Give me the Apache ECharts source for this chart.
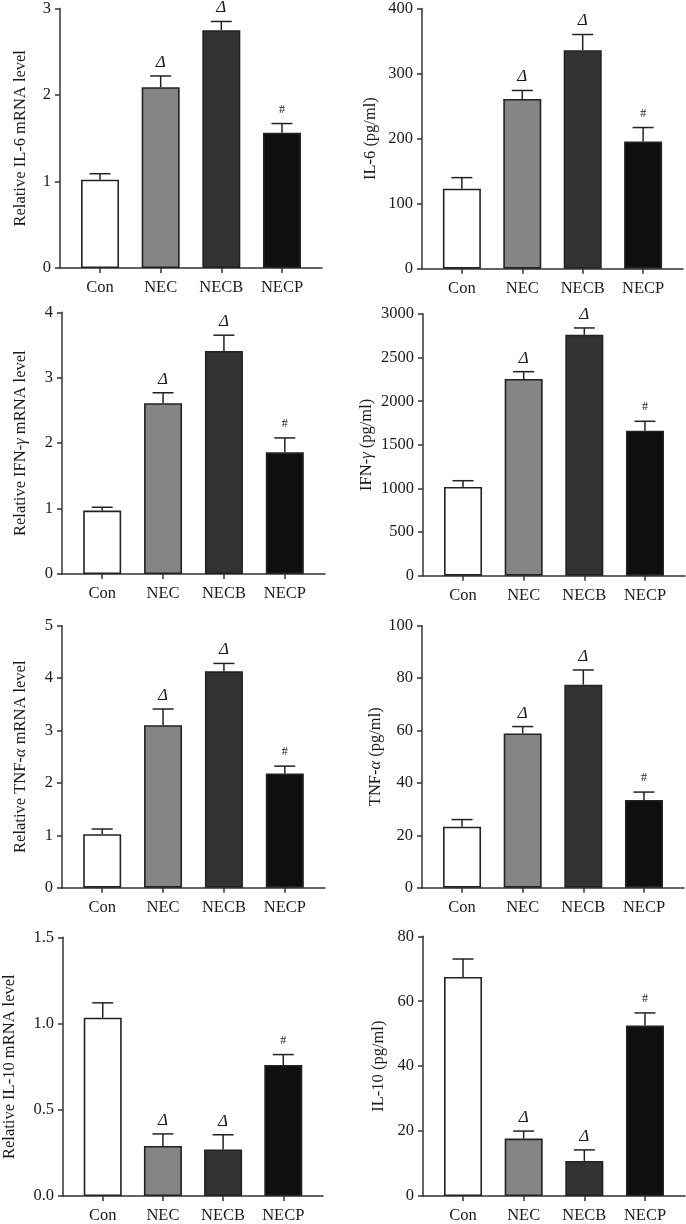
<!DOCTYPE html>
<html>
<head>
<meta charset="utf-8">
<script src="https://cdn.jsdelivr.net/npm/echarts@6/dist/echarts.min.js"></script>
<style>
html,body{margin:0;padding:0;background:#fff;}
#chart{width:686px;height:1224px;}
</style>
</head>
<body>
<div id="chart"></div>
<script>
// ---- data ----
const categories = ['Con', 'NEC', 'NECB', 'NECP'];
const marks = ['', 'Δ', 'Δ', '#'];

const il6mRNA = [1.02, 2.09, 2.75, 1.565];
const il6mRNAErr = [0.07, 0.13, 0.10, 0.105];
const il6Protein = [123, 261, 336, 195.5];
const il6ProteinErr = [17, 13, 24, 21.5];

const ifngmRNA = [0.97, 2.61, 3.41, 1.86];
const ifngmRNAErr = [0.05, 0.16, 0.24, 0.22];
const ifngProtein = [1017, 2255, 2763, 1662];
const ifngProteinErr = [72, 84, 77, 108];

const tnfamRNA = [1.02, 3.10, 4.13, 2.18];
const tnfamRNAErr = [0.10, 0.31, 0.15, 0.14];
const tnfaProtein = [23.3, 58.9, 77.5, 33.5];
const tnfaProteinErr = [2.7, 2.6, 5.6, 3.0];

const il10mRNA = [1.034, 0.29, 0.27, 0.76];
const il10mRNAErr = [0.086, 0.07, 0.085, 0.06];
const il10Protein = [67.5, 17.7, 10.8, 52.5];
const il10ProteinErr = [5.5, 2.3, 3.4, 3.9];

const yTicks = {
  p1: [0, 3, 1], p2: [0, 400, 100], p3: [0, 4, 1], p4: [0, 3000, 500],
  p5: [0, 5, 1], p6: [0, 100, 20], p7: [0, 1.5, 0.5], p8: [0, 80, 20]
};

// ---- styling ----
const FONT = '"Liberation Serif", "DejaVu Serif", serif';
const barColors = ['#ffffff', '#858585', '#333333', '#0f0f0f'];
const AXIS = '#333';

const panels = [
  {vals: il6mRNA, err: il6mRNAErr, ticks: yTicks.p1, name: 'Relative IL-6 mRNA level', grid: {left: 60, top: 6, width: 262, height: 262}, gap: 31},
  {vals: il6Protein, err: il6ProteinErr, ticks: yTicks.p2, name: 'IL-6 (pg/ml)', grid: {left: 422, top: 6.7, width: 261, height: 262}, gap: 43},
  {vals: ifngmRNA, err: ifngmRNAErr, ticks: yTicks.p3, name: 'Relative IFN-{i|γ} mRNA level', grid: {left: 62, top: 312.3, width: 263, height: 261.7}, gap: 33},
  {vals: ifngProtein, err: ifngProteinErr, ticks: yTicks.p4, name: 'IFN-{i|γ} (pg/ml)', grid: {left: 423, top: 314, width: 262, height: 261.7}, gap: 48},
  {vals: tnfamRNA, err: tnfamRNAErr, ticks: yTicks.p5, name: 'Relative TNF-{i|α} mRNA level', grid: {left: 62, top: 625.7, width: 263, height: 262}, gap: 33},
  {vals: tnfaProtein, err: tnfaProteinErr, ticks: yTicks.p6, name: 'TNF-{i|α} (pg/ml)', grid: {left: 422, top: 625.7, width: 262, height: 262}, gap: 37},
  {vals: il10mRNA, err: il10mRNAErr, ticks: yTicks.p7, name: 'Relative IL-10 mRNA level', grid: {left: 62, top: 937.3, width: 261, height: 262}, gap: 45, dec: 1},
  {vals: il10Protein, err: il10ProteinErr, ticks: yTicks.p8, name: 'IL-10 (pg/ml)', grid: {left: 423, top: 936.3, width: 262, height: 262}, gap: 36}
];

const grids = [], xAxes = [], yAxes = [], series = [];
panels.forEach((p, k) => {
  grids.push(Object.assign({containLabel: false}, p.grid));
  xAxes.push({
    type: 'value', gridIndex: k, min: -0.66, max: 3.66,
    splitLine: {show: false},
    axisLine: {show: true, lineStyle: {color: AXIS, width: 1.5}},
    axisTick: {show: true, customValues: [0, 1, 2, 3], length: 5, lineStyle: {color: AXIS, width: 1.5}},
    axisLabel: {customValues: [0, 1, 2, 3], formatter: v => categories[Math.round(v)], fontFamily: FONT, fontSize: 16.5, color: '#1a1a1a', margin: 11}
  });
  yAxes.push({
    type: 'value', gridIndex: k, min: p.ticks[0], max: p.ticks[1], interval: p.ticks[2],
    splitLine: {show: false},
    axisLine: {show: true, onZero: false, lineStyle: {color: AXIS, width: 1.5}},
    axisTick: {show: true, length: 5, lineStyle: {color: AXIS, width: 1.5}},
    axisLabel: {fontFamily: FONT, fontSize: 16.5, color: '#1a1a1a', margin: 9,
      formatter: v => p.dec ? v.toFixed(p.dec) : String(v)},
    name: p.name, nameLocation: 'middle', nameGap: p.gap, nameRotate: 90,
    nameTextStyle: {fontFamily: FONT, fontSize: 16.5, color: '#1a1a1a',
      rich: {i: {fontFamily: FONT, fontSize: 16.5, fontStyle: 'italic', color: '#1a1a1a'}}}
  });
  series.push({
    type: 'bar', xAxisIndex: k, yAxisIndex: k, barWidth: 38,
    data: p.vals.map((v, i) => ({value: [i, v], itemStyle: {color: barColors[i], borderColor: '#222', borderWidth: 1.6}})),
    silent: true, animation: false
  });
  series.push({
    type: 'custom', xAxisIndex: k, yAxisIndex: k, animation: false, silent: true,
    data: p.vals.map((v, i) => [i, v, v + p.err[i]]),
    renderItem: (params, api) => {
      const i = api.value(0);
      const base = api.coord([i, api.value(1)]);
      const top = api.coord([i, api.value(2)]);
      const m = marks[params.dataIndex];
      const children = [
        {type: 'line', shape: {x1: base[0], y1: base[1], x2: top[0], y2: top[1]}, style: {stroke: '#222', lineWidth: 1.5}},
        {type: 'line', shape: {x1: top[0] - 10.5, y1: top[1], x2: top[0] + 10.5, y2: top[1]}, style: {stroke: '#222', lineWidth: 1.5}}
      ];
      if (m === 'Δ') {
        children.push({type: 'text', style: {text: 'Δ', x: top[0], y: top[1] - 5, align: 'center', verticalAlign: 'bottom',
          font: 'italic 17px ' + FONT, fill: '#1a1a1a'}});
      } else if (m === '#') {
        children.push({type: 'text', style: {text: '#', x: top[0], y: top[1] - 8, align: 'center', verticalAlign: 'bottom',
          font: '12px ' + FONT, fill: '#1a1a1a'}});
      }
      return {type: 'group', children};
    }
  });
});

const chart = echarts.init(document.getElementById('chart'), null, {renderer: 'canvas'});
chart.setOption({
  backgroundColor: '#ffffff',
  animation: false,
  grid: grids, xAxis: xAxes, yAxis: yAxes, series: series
});
</script>
</body>
</html>
